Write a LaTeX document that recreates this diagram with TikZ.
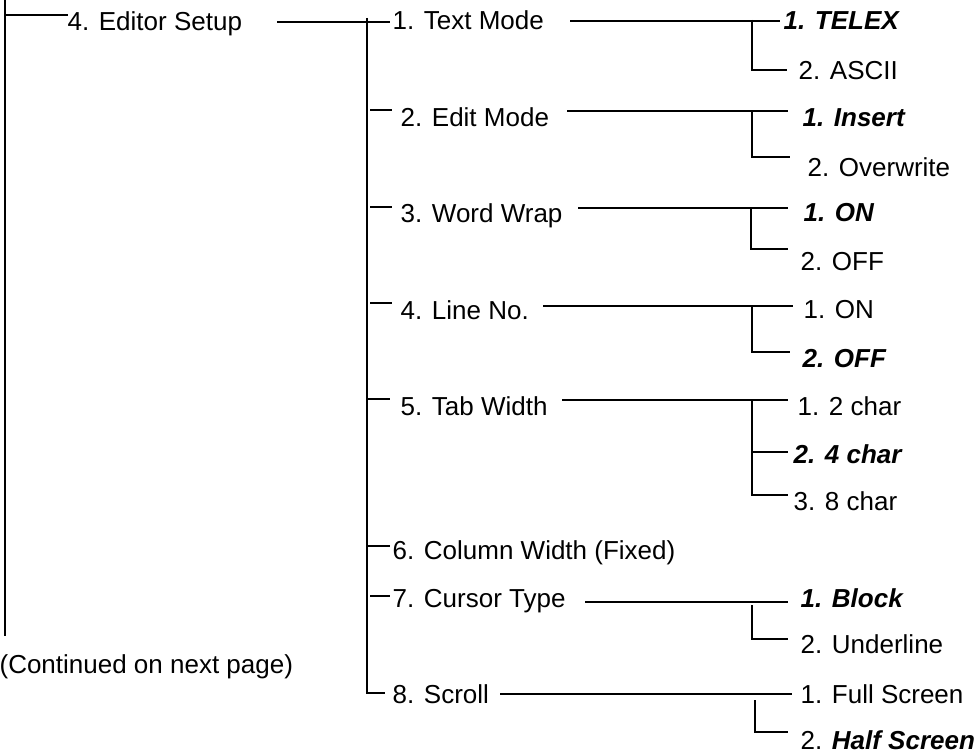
\documentclass[tikz,border=0pt]{standalone}
\usepackage{fontspec}
\setmainfont{Liberation Sans}
\begin{document}
\begin{tikzpicture}[x=1pt,y=-1pt,line width=1.2pt,
  lbl/.style={inner sep=0pt,anchor=base west,font=\fontsize{26}{30}\selectfont},
  sel/.style={lbl,font=\fontsize{26}{30}\selectfont\bfseries\itshape},
  conn/.style={line width=1.2pt,black}]
\useasboundingbox (0,0) rectangle (980,754);
% level 1
\node[lbl] (es) at (67,31) {4. Editor Setup};
\node[lbl] (cont) at (-1,673) {(Continued on next page)};
% level 2
\node[lbl] (t1) at (392,30) {1. Text Mode};
\node[lbl] (t2) at (400,127) {2. Edit Mode};
\node[lbl] (t3) at (400,223) {3. Word Wrap};
\node[lbl] (t4) at (400,319) {4. Line No.};
\node[lbl] (t5) at (400,415) {5. Tab Width};
\node[lbl] (t6) at (392,559) {6. Column Width (Fixed)};
\node[lbl] (t7) at (392,607) {7. Cursor Type};
\node[lbl] (t8) at (392,703) {8. Scroll};
% level 3
\node[sel] (a1) at (783,30) {1. TELEX};
\node[lbl] (a2) at (798,80) {2. ASCII};
\node[sel] (b1) at (802,127) {1. Insert};
\node[lbl] (b2) at (807,177) {2. Overwrite};
\node[sel] (c1) at (803,222) {1. ON};
\node[lbl] (c2) at (800,270) {2. OFF};
\node[lbl] (d1) at (803,318) {1. ON};
\node[sel] (d2) at (802,367) {2. OFF};
\node[lbl] (e1) at (797,415) {1. 2 char};
\node[sel] (e2) at (793,463) {2. 4 char};
\node[lbl] (e3) at (793,510) {3. 8 char};
\node[sel] (f1) at (800,607) {1. Block};
\node[lbl] (f2) at (800,653) {2. Underline};
\node[lbl] (g1) at (800,703) {1. Full Screen};
\node[lbl] (g2) at (800,749) {2. \textbf{\textit{Half Screen}}};
% trunks
\coordinate (tr1top) at (5,0);
\coordinate (tr1bot) at (5,636);
\draw[conn] (tr1top) -- (tr1bot);
\draw[conn] (5,15) -- (68,15);
\draw[conn] (277,22) -- (390,22);
\coordinate (tr2top) at (367,18);
\coordinate (tr2bot) at (367,693);
\draw[conn] (tr2top) -- (tr2bot) -- (385,693);
% level-2 ticks
\draw[conn] (370,110) -- (392,110);
\draw[conn] (370,207) -- (392,207);
\draw[conn] (370,303) -- (392,303);
\draw[conn] (368,399) -- (390,399);
\draw[conn] (368,546) -- (390,546);
\draw[conn] (370,596) -- (390,596);
% level-3 branches
\draw[conn] (570,21) -- (780,21);
\draw[conn] (752,20) -- (752,70) -- (787,70);
\draw[conn] (567,111) -- (788,111);
\draw[conn] (752,111) -- (752,157) -- (790,157);
\draw[conn] (578,208) -- (788,208);
\draw[conn] (751,208) -- (751,249) -- (788,249);
\draw[conn] (543,306) -- (793,306);
\draw[conn] (752,306) -- (752,352) -- (790,352);
\draw[conn] (562,400) -- (788,400);
\draw[conn] (752,400) -- (752,495) -- (788,495);
\draw[conn] (752,452) -- (788,452);
\draw[conn] (585,602) -- (788,602);
\draw[conn] (752,605) -- (752,639) -- (788,639);
\draw[conn] (500,694) -- (792,694);
\draw[conn] (755,700) -- (755,732) -- (788,732);
\end{tikzpicture}
\end{document}
